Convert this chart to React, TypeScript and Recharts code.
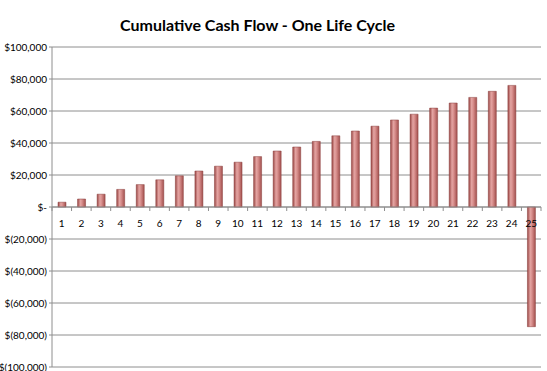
import React from "react";
import { BarChart, Bar, XAxis, YAxis, CartesianGrid, ReferenceLine } from "recharts";

const periods = [
  "1", "2", "3", "4", "5", "6", "7", "8", "9", "10", "11", "12", "13",
  "14", "15", "16", "17", "18", "19", "20", "21", "22", "23", "24", "25"
];

const cashFlow = [
  3000, 5000, 8000, 11000, 14000, 17000, 19500, 22500, 25500, 28000, 31500, 35000, 37500,
  41000, 44500, 47500, 50500, 54400, 58000, 61800, 65000, 68500, 72300, 76000, -74800
];

const yTicks = [-100000, -80000, -60000, -40000, -20000, 0, 20000, 40000, 60000, 80000, 100000];

const data = periods.map((p, i) => ({ period: p, value: cashFlow[i] }));

const FONT = "Lato, 'Liberation Sans', sans-serif";

const money = (v: number) => {
  if (v === 0) return "$-";
  const s = Math.abs(v).toString().replace(/\B(?=(\d{3})+(?!\d))/g, ",");
  return v < 0 ? `$(${s})` : `$${s}`;
};

// category labels sit on the zero line, half way up the plot
const CategoryTick = (props: any) => {
  const { x, y, payload, index } = props;
  const half = 160;
  const zeroY = y - 8 - half;
  const band = 489 / periods.length;
  return (
    <g>
      <line x1={x - band / 2} x2={x - band / 2} y1={zeroY} y2={zeroY + 4} stroke="#8e8e8e" />
      {index === periods.length - 1 && (
        <line x1={x + band / 2} x2={x + band / 2} y1={zeroY} y2={zeroY + 4} stroke="#8e8e8e" />
      )}
      <text x={x} y={zeroY + 20} textAnchor="middle" fontSize={10} fill="#000" fontFamily={FONT}>
        {payload.value}
      </text>
    </g>
  );
};

export default function App() {
  return (
    <div style={{ position: "absolute", left: 0, top: 0, width: 547, height: 371, background: "#fff" }}>
      <div
        style={{
          position: "absolute",
          left: 0,
          top: 15,
          width: 515,
          textAlign: "center",
          fontFamily: FONT,
          fontWeight: 700,
          fontSize: 16,
          color: "#000"
        }}
      >
        Cumulative Cash Flow - One Life Cycle
      </div>
      <BarChart
        width={547}
        height={371}
        data={data}
        barSize={8}
        margin={{ top: 47, right: 6, left: 0, bottom: 0 }}
      >
        <defs>
          <linearGradient id="cyl" x1="0" y1="0" x2="1" y2="0">
            <stop offset="0%" stopColor="#9a4644" />
            <stop offset="35%" stopColor="#e3a4a2" />
            <stop offset="55%" stopColor="#d9908e" />
            <stop offset="100%" stopColor="#a24f4d" />
          </linearGradient>
        </defs>
        <CartesianGrid vertical={false} stroke="#8e8e8e" />
        <XAxis
          dataKey="period"
          axisLine={false}
          tickLine={false}
          height={4}
          tick={<CategoryTick />}
          interval={0}
        />
        <YAxis
          domain={[-100000, 100000]}
          ticks={yTicks}
          tickFormatter={money}
          width={52}
          tickSize={3}
          axisLine={{ stroke: "#8e8e8e" }}
          tickLine={{ stroke: "#8e8e8e" }}
          tick={{ fontSize: 10, fill: "#000", fontFamily: FONT }}
          interval={0}
        />
        <ReferenceLine y={0} stroke="#8e8e8e" />
        <Bar dataKey="value" fill="url(#cyl)" stroke="#8a3e3c" strokeWidth={0.5} isAnimationActive={false} />
      </BarChart>
    </div>
  );
}
